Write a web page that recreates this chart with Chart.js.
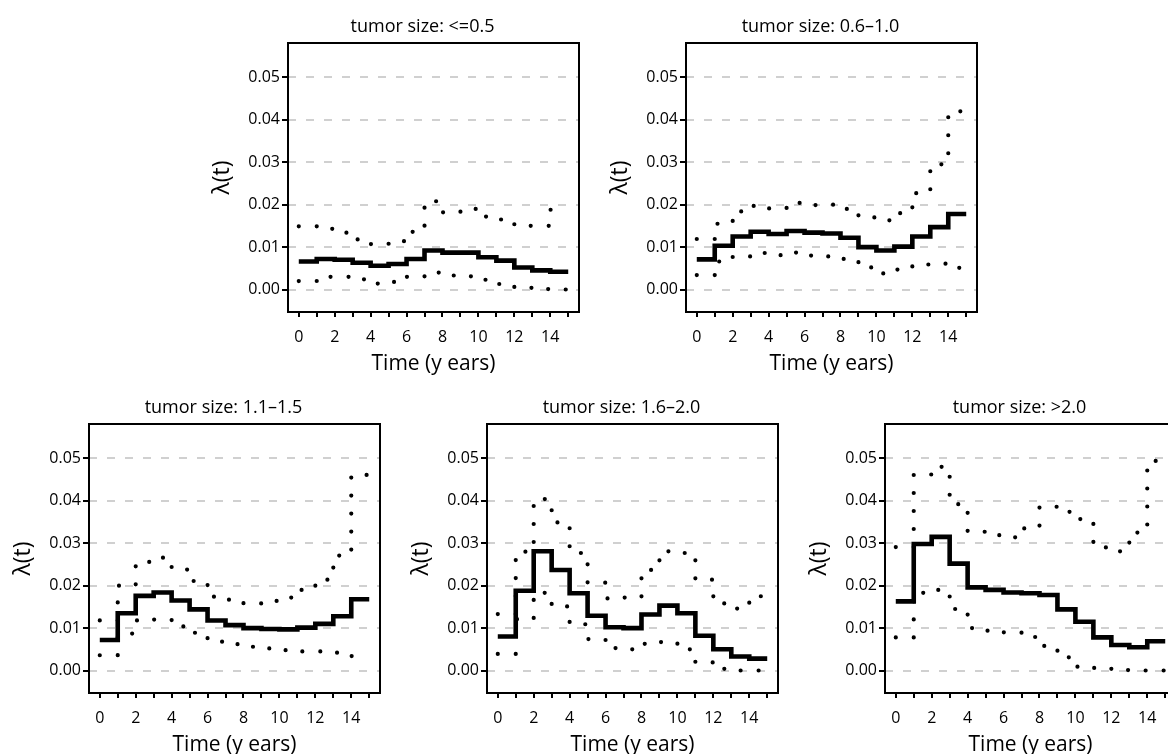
<!DOCTYPE html>
<html><head><meta charset="utf-8">
<script src="https://cdn.jsdelivr.net/npm/chart.js@4/dist/chart.umd.min.js"></script>
<style>
html,body{margin:0;padding:0;background:#fff;width:1168px;height:754px;overflow:hidden;position:relative;}
canvas{position:absolute;}
</style></head><body>
<canvas id="c1" width="411" height="380" style="left:200px;top:0px"></canvas>
<canvas id="c2" width="411" height="380" style="left:598px;top:0px"></canvas>
<canvas id="c3" width="411" height="380" style="left:1px;top:381px"></canvas>
<canvas id="c4" width="411" height="380" style="left:399px;top:381px"></canvas>
<canvas id="c5" width="411" height="380" style="left:797px;top:381px"></canvas>
<script>
// interval break points (years); value i holds on [years[i], years[i+1])
const years = [0,1,2,3,4,5,6,7,8,9,10,11,12,13,14,15];
const xTickValues = [0,1,2,3,4,5,6,7,8,9,10,11,12,13,14,15];
const xLabelValues = [0,2,4,6,8,10,12,14];
const yTickValues = [0,0.01,0.02,0.03,0.04,0.05];
const panelTitles = ["tumor size: <=0.5","tumor size: 0.6\u20131.0","tumor size: 1.1\u20131.5","tumor size: 1.6\u20132.0","tumor size: >2.0"];
const xTitle = "Time (y ears)";
const yTitle = "\u03bb(t)";

const est1 = [0.0066,0.0072,0.0070,0.0063,0.0056,0.0060,0.0072,0.0092,0.0087,0.0087,0.0076,0.0068,0.0052,0.0045,0.0042];
const up1  = [0.0149,0.0143,0.0134,0.0118,0.0107,0.0114,0.0136,0.0208,0.0182,0.0190,0.0172,0.0165,0.0150,0.0150,0.0188];
const lo1  = [0.0020,0.0030,0.0030,0.0024,0.0014,0.0018,0.0030,0.0040,0.0033,0.0031,0.0023,0.0013,0.0004,0.0001,0.0000];

const est2 = [0.0071,0.0103,0.0125,0.0136,0.0131,0.0138,0.0134,0.0132,0.0122,0.0100,0.0092,0.0101,0.0125,0.0147,0.0178];
const up2  = [0.0119,0.0155,0.0184,0.0197,0.0191,0.0204,0.0199,0.0200,0.0190,0.0170,0.0163,0.0180,0.0227,0.0295,0.0420];
const lo2  = [0.0034,0.0066,0.0078,0.0086,0.0081,0.0087,0.0080,0.0078,0.0072,0.0052,0.0038,0.0047,0.0059,0.0061,0.0051];

const est3 = [0.0072,0.0135,0.0176,0.0184,0.0165,0.0144,0.0118,0.0107,0.0100,0.0098,0.0097,0.0101,0.0110,0.0128,0.0168];
const up3  = [0.0118,0.0200,0.0256,0.0266,0.0238,0.0211,0.0174,0.0167,0.0158,0.0164,0.0172,0.0190,0.0214,0.0271,0.0461];
const lo3  = [0.0036,0.0087,0.0118,0.0120,0.0104,0.0089,0.0068,0.0062,0.0056,0.0052,0.0048,0.0045,0.0045,0.0042,0.0034];

const est4 = [0.0080,0.0188,0.0281,0.0237,0.0182,0.0129,0.0102,0.0100,0.0132,0.0153,0.0135,0.0082,0.0050,0.0033,0.0028];
const up4  = [0.0133,0.0280,0.0404,0.0349,0.0277,0.0207,0.0170,0.0172,0.0237,0.0281,0.0277,0.0214,0.0158,0.0146,0.0175];
const lo4  = [0.0039,0.0121,0.0183,0.0151,0.0109,0.0074,0.0053,0.0050,0.0063,0.0067,0.0050,0.0019,0.0004,0.0000,0.0000];

const est5 = [0.0163,0.0298,0.0315,0.0252,0.0196,0.0190,0.0184,0.0182,0.0178,0.0144,0.0115,0.0078,0.0060,0.0055,0.0069];
const up5  = [0.0291,0.0462,0.0480,0.0392,0.0327,0.0319,0.0314,0.0335,0.0386,0.0374,0.0357,0.0290,0.0281,0.0325,0.0494];
const lo5  = [0.0078,0.0183,0.0190,0.0145,0.0100,0.0094,0.0090,0.0079,0.0058,0.0031,0.0009,0.0006,0.0001,0.0000,0.0000];

const FONT = "'Open Sans', sans-serif";
Chart.defaults.font.family = FONT;
Chart.defaults.color = '#000';

const boxPlugin = {
  id: 'plotBox',
  afterDraw(chart) {
    const {ctx, chartArea: a} = chart;
    ctx.save();
    ctx.lineWidth = 2;
    ctx.strokeStyle = '#000';
    ctx.strokeRect(a.left, a.top, a.right - a.left, a.bottom - a.top);
    ctx.restore();
  }
};

function stepData(vals) {
  const pts = vals.map((v, i) => ({x: years[i], y: v}));
  pts.push({x: years[vals.length], y: vals[vals.length - 1]});
  return pts;
}

function makePanel(id, title, est, up, lo) {
  const dotted = {stepped: true, borderColor: '#000', borderWidth: 4.2, borderDash: [0, 18],
                  borderCapStyle: 'round', pointRadius: 0, fill: false};
  new Chart(document.getElementById(id), {
    type: 'line',
    data: {datasets: [
      Object.assign({label: 'upper', data: stepData(up)}, dotted),
      Object.assign({label: 'lower', data: stepData(lo)}, dotted),
      {label: 'estimate', data: stepData(est), stepped: true, borderColor: '#000', borderWidth: 4.6,
       borderCapStyle: 'butt', borderJoinStyle: 'miter', pointRadius: 0, fill: false}
    ]},
    options: {
      responsive: false, animation: false, events: [],
      layout: {padding: {left: 46, right: 12, top: 0, bottom: 0}},
      plugins: {
        legend: {display: false}, tooltip: {enabled: false},
        title: {display: true, text: title, color: '#000',
                font: {family: FONT, size: 18, weight: 'normal'}, padding: {top: 16.5, bottom: 4.9}}
      },
      scales: {
        x: {
          type: 'linear', min: -0.6, max: 15.6,
          afterBuildTicks: s => { s.ticks = xTickValues.map(v => ({value: v})); },
          afterFit: s => { s.height = 68; },
          grid: {drawOnChartArea: false, drawTicks: true, tickLength: 5, tickWidth: 2, tickColor: '#000', lineWidth: 0},
          border: {display: false},
          ticks: {autoSkip: false, maxRotation: 0, padding: 11, color: '#000',
                  font: {family: FONT, size: 16},
                  callback: v => xLabelValues.includes(v) ? String(v) : ''},
          title: {display: true, text: xTitle, color: '#000', font: {family: FONT, size: 21},
                  padding: {top: 0, bottom: 3.6}}
        },
        y: {
          type: 'linear', min: -0.0053, max: 0.0581,
          afterBuildTicks: s => { s.ticks = yTickValues.map(v => ({value: v})); },
          afterFit: s => { s.width = 42; },
          grid: {color: '#d0d0d0', lineWidth: 2, drawTicks: true, tickLength: 6, tickWidth: 2, tickColor: '#000'},
          border: {display: false, dash: [8, 10]},
          ticks: {padding: 2, color: '#000', font: {family: FONT, size: 16},
                  callback: v => Number(v).toFixed(2)},
          title: {display: true, text: yTitle, color: '#000', font: {family: FONT, size: 23},
                  padding: {top: -37.8, bottom: 0}}
        },
        yPad: {
          type: 'linear', position: 'right', display: true,
          afterFit: s => { s.width = 20; },
          grid: {display: false}, border: {display: false},
          ticks: {display: false}, title: {display: false}
        }
      }
    },
    plugins: [boxPlugin]
  });
}

makePanel('c1', panelTitles[0], est1, up1, lo1);
makePanel('c2', panelTitles[1], est2, up2, lo2);
makePanel('c3', panelTitles[2], est3, up3, lo3);
makePanel('c4', panelTitles[3], est4, up4, lo4);
makePanel('c5', panelTitles[4], est5, up5, lo5);
</script>
</body></html>
